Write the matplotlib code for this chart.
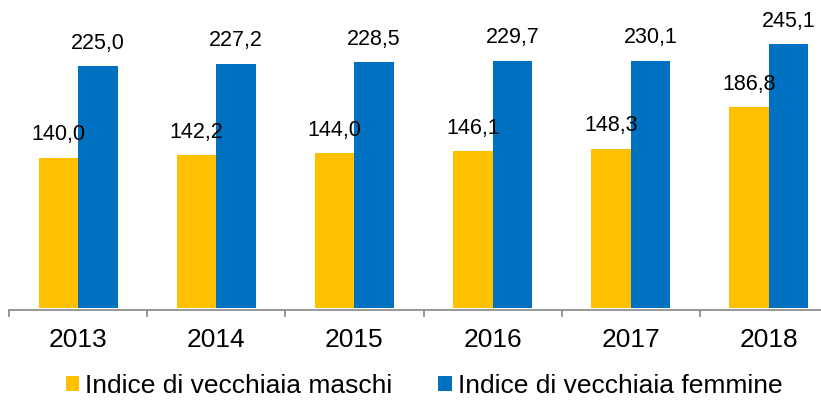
import matplotlib
matplotlib.use("Agg")
import matplotlib.pyplot as plt
import numpy as np

years = ["2013", "2014", "2015", "2016", "2017", "2018"]
maschi = [140.0, 142.2, 144.0, 146.1, 148.3, 186.8]
femmine = [225.0, 227.2, 228.5, 229.7, 230.1, 245.1]
series_names = ["Indice di vecchiaia maschi", "Indice di vecchiaia femmine"]
colors = ["#FFC000", "#0070C0"]

plt.rcParams['font.family'] = ['Liberation Sans', 'DejaVu Sans']

W, H = 821, 401
fig = plt.figure(figsize=(W / 100, H / 100), dpi=100)
ymax = 280
pxu = 1.083
left, right = 9, 838
base = 310
ax = fig.add_axes([left / W, (H - base) / H, (right - left) / W, ymax * pxu / H])

x = np.arange(len(years))
bw = 0.286
b1 = ax.bar(x - bw / 2, maschi, bw, color=colors[0], label=series_names[0])
b2 = ax.bar(x + bw / 2, femmine, bw, color=colors[1], label=series_names[1])

fmt = lambda v: f"{v:.1f}".replace(".", ",")
ax.bar_label(b1, labels=[fmt(v) for v in maschi], padding=9, fontsize=15.5)
ax.bar_label(b2, labels=[fmt(v) for v in femmine], padding=9, fontsize=15.5)

ax.set_xlim(-0.5, len(years) - 0.5)
ax.set_ylim(-1.5, ymax)
for s in ["top", "right", "left"]:
    ax.spines[s].set_visible(False)
ax.spines["bottom"].set_color("#868686")
ax.spines["bottom"].set_linewidth(1.2)
ax.set_yticks([])
ax.set_xticks(x)
ax.set_xticklabels(years, fontsize=19)
ax.tick_params(axis="x", which="major", length=0, pad=13)
ax.set_xticks(np.arange(len(years) + 1) - 0.5, minor=True)
ax.tick_params(axis="x", which="minor", length=5, color="#868686", width=1.2)

fig.legend(handles=[b1, b2], loc="center", bbox_to_anchor=(424 / W, 1 - 386 / H),
           ncol=2, frameon=False, fontsize=19, handlelength=0.5, handleheight=0.5,
           handletextpad=0.23, columnspacing=1.75, borderpad=0)

fig.savefig("out.png", dpi=100)
